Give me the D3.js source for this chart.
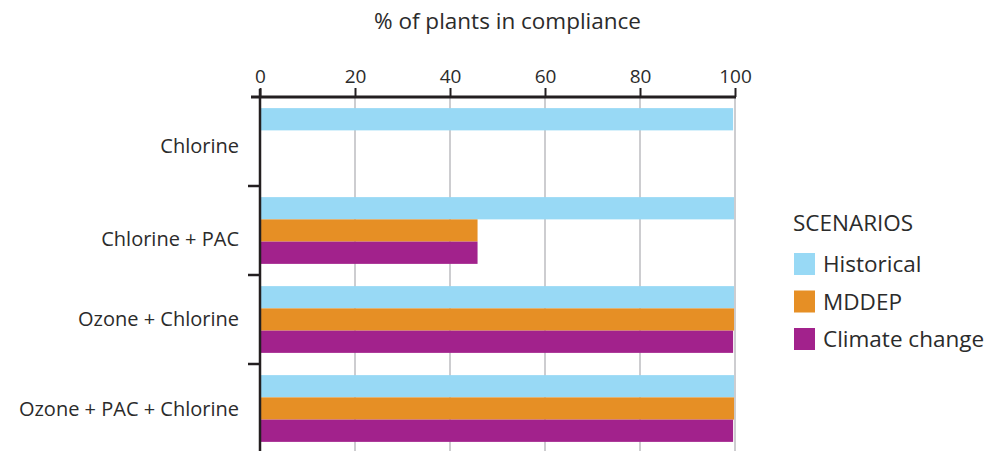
<!DOCTYPE html>
<html>
<head>
<meta charset="utf-8">
<script src="https://cdn.jsdelivr.net/npm/d3@7"></script>
<style>
  html, body { margin: 0; padding: 0; background: #fff; }
  svg { display: block; }
  text { font-family: "Open Sans", "DejaVu Sans", sans-serif; fill: #2b2b2b; }
</style>
</head>
<body>
<svg id="chart" width="985" height="451"></svg>
<script>
// Treatment chains (rows) and compliance scenarios (bars within a row)
const categories = ["Chlorine", "Chlorine + PAC", "Ozone + Chlorine", "Ozone + PAC + Chlorine"];
const series = ["Historical", "MDDEP", "Climate change"];
const historical = [99.6, 99.8, 99.8, 99.8];
const mddep = [0, 45.8, 99.8, 99.8];
const climateChange = [0, 45.8, 99.6, 99.6];
const xTicks = [0, 20, 40, 60, 80, 100];
const colors = ["#98d9f5", "#e68f25", "#a2228c"];

// Layout constants
const labelNudge = [4, 8, -1, 0];   // vertical fine-tuning of row labels
const tickFont = 19, rowFont = 20, titleFont = 22.5, legendFont = 22.5;

const values = [historical, mddep, climateChange];
const rows = categories.map((c, i) => ({
  category: c,
  bars: series.map((s, j) => ({ series: s, value: values[j][i] }))
}));

const svg = d3.select("#chart");

const x = d3.scaleLinear().domain([0, 100]).range([260, 735]);
const y = d3.scaleBand().domain(categories).range([97, 453]).paddingInner(0).paddingOuter(0);
const yInner = d3.scaleBand().domain(series).range([0, y.bandwidth()]).paddingInner(0).paddingOuter(0.5);
const color = d3.scaleOrdinal().domain(series).range(colors);

// Vertical grid lines
svg.append("g")
  .selectAll("line")
  .data(xTicks.filter(d => d > 0))
  .join("line")
  .attr("x1", d => x(d)).attr("x2", d => x(d))
  .attr("y1", 97).attr("y2", 453)
  .attr("stroke", "#bdbdc1")
  .attr("stroke-width", 1.5);

// Bars
const groups = svg.append("g")
  .selectAll("g")
  .data(rows)
  .join("g")
  .attr("transform", d => `translate(0,${y(d.category)})`);

groups.selectAll("rect")
  .data(d => d.bars.filter(b => b.value > 0))
  .join("rect")
  .attr("x", x(0))
  .attr("y", d => yInner(d.series))
  .attr("width", d => x(d.value) - x(0))
  .attr("height", yInner.bandwidth())
  .attr("fill", d => color(d.series));

// Top axis
const xAxis = d3.axisTop(x)
  .tickValues(xTicks)
  .tickSize(9)
  .tickPadding(5);

const gx = svg.append("g")
  .attr("transform", "translate(0,97)")
  .call(xAxis);
gx.select(".domain").remove();
gx.selectAll(".tick line").attr("stroke", "#231f20").attr("stroke-width", 2);
gx.selectAll(".tick text")
  .attr("font-size", tickFont)
  .style("font-family", "\"Open Sans\", \"DejaVu Sans\", sans-serif")
  .attr("fill", "#2b2b2b");

svg.append("line")
  .attr("x1", 251).attr("x2", x(100) + 1)
  .attr("y1", 97).attr("y2", 97)
  .attr("stroke", "#231f20").attr("stroke-width", 3);

// Left axis with ticks at row boundaries
const boundaries = categories.map(c => y(c)).concat([y.range()[1]]);
svg.append("line")
  .attr("x1", x(0)).attr("x2", x(0))
  .attr("y1", 89).attr("y2", 453)
  .attr("stroke", "#231f20").attr("stroke-width", 2.5);
svg.append("g")
  .selectAll("line")
  .data(boundaries.slice(1))
  .join("line")
  .attr("x1", 248).attr("x2", x(0))
  .attr("y1", d => d).attr("y2", d => d)
  .attr("stroke", "#231f20").attr("stroke-width", 2.5);

// Row labels
svg.append("g")
  .selectAll("text")
  .data(categories)
  .join("text")
  .attr("x", 239)
  .attr("y", (d, i) => y(d) + y.bandwidth() / 2 + labelNudge[i])
  .attr("dy", "0.36em")
  .attr("text-anchor", "end")
  .attr("font-size", rowFont)
  .text(d => d);

// Axis title
svg.append("text")
  .attr("x", 507.5)
  .attr("y", 29)
  .attr("text-anchor", "middle")
  .attr("font-size", titleFont)
  .text("% of plants in compliance");

// Legend
const legend = svg.append("g").attr("transform", "translate(793,0)");
legend.append("text")
  .attr("x", 0).attr("y", 231)
  .attr("font-size", legendFont)
  .text("SCENARIOS");
const items = legend.selectAll("g.item")
  .data(series)
  .join("g")
  .attr("class", "item")
  .attr("transform", (d, i) => `translate(0,${253 + i * 37.5})`);
items.append("rect")
  .attr("x", 1).attr("y", 0)
  .attr("width", 21).attr("height", 22)
  .attr("fill", d => color(d));
items.append("text")
  .attr("x", 30).attr("y", 19)
  .attr("font-size", legendFont)
  .text(d => d);
</script>
</body>
</html>
